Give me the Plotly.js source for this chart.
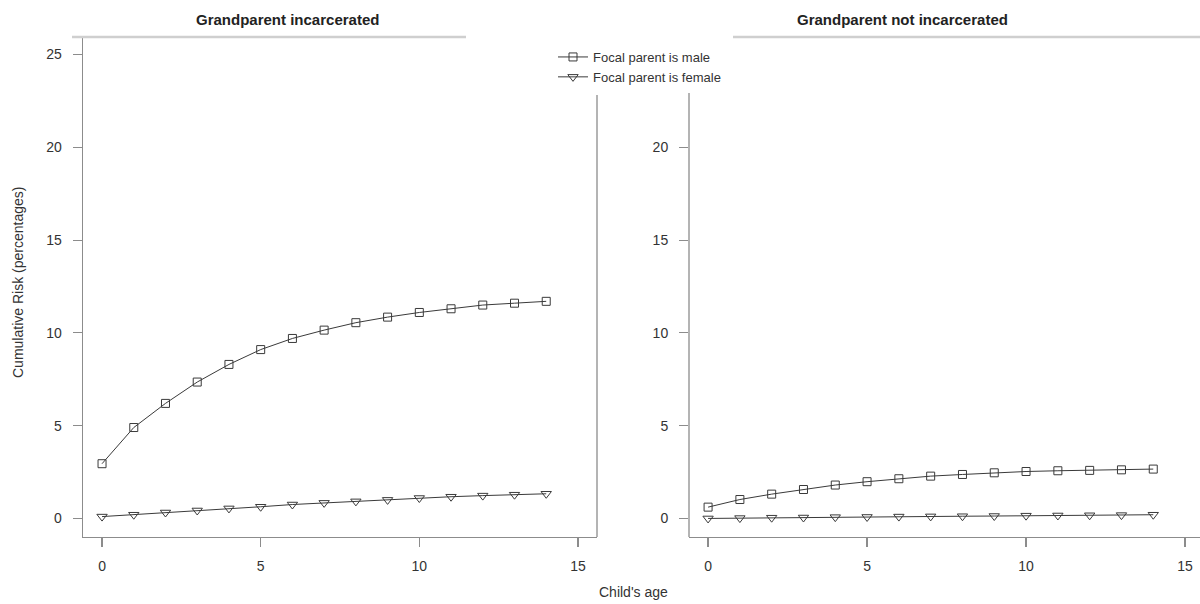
<!DOCTYPE html>
<html>
<head>
<meta charset="utf-8">
<script src="https://cdn.plot.ly/plotly-3.0.1.min.js"></script>
<style>html,body{margin:0;padding:0;background:#fff;}</style>
</head>
<body>
<div id="chart" style="width:1200px;height:604px;"></div>
<script>
const ages = [0,1,2,3,4,5,6,7,8,9,10,11,12,13,14];
const incMale   = [2.95, 4.9, 6.2, 7.35, 8.3, 9.1, 9.7, 10.15, 10.55, 10.85, 11.1, 11.3, 11.5, 11.6, 11.7];
const incFemale = [0.1, 0.2, 0.32, 0.43, 0.54, 0.63, 0.75, 0.84, 0.92, 1.0, 1.1, 1.17, 1.23, 1.28, 1.33];
const notMale   = [0.61, 1.02, 1.31, 1.56, 1.8, 1.98, 2.14, 2.28, 2.37, 2.46, 2.53, 2.57, 2.59, 2.62, 2.66];
const notFemale = [0.0, 0.02, 0.04, 0.05, 0.07, 0.08, 0.1, 0.11, 0.12, 0.13, 0.15, 0.16, 0.17, 0.18, 0.2];
const panelTitles = ["Grandparent incarcerated", "Grandparent not incarcerated"];
const seriesNames = ["Focal parent is male", "Focal parent is female"];
const xTicks = [0,5,10,15];
const yTicksLeft = [0,5,10,15,20,25];
const yTicksRight = [0,5,10,15,20];

const W = 1200, H = 604;
const px = v => v / W;
const py = v => 1 - v / H;
const font = "Liberation Sans, Arial, sans-serif";
const lineCol = "#3a3a3a";
const axCol = "#8c8c8c";
const txtCol = "#333";

function tr(y, name, sym, xa, ya, show) {
  return {
    x: ages, y: y, name: name, xaxis: xa, yaxis: ya, showlegend: show,
    type: "scatter", mode: "lines+markers",
    line: {color: lineCol, width: 1},
    marker: {symbol: sym, size: sym === "square-open" ? 8 : 9, color: lineCol, line: {width: 1, color: lineCol}}
  };
}

const data = [
  tr(incMale, seriesNames[0], "square-open", "x", "y", true),
  tr(incFemale, seriesNames[1], "triangle-down-open", "x", "y", true),
  tr(notMale, seriesNames[0], "square-open", "x2", "y2", false),
  tr(notFemale, seriesNames[1], "triangle-down-open", "x2", "y2", false)
];

function xax(dom, rng) {
  return {domain: dom, range: rng, showline: true, linecolor: axCol, linewidth: 1.3,
    ticks: "outside", ticklen: 9, tickcolor: axCol, tickwidth: 1.2, tickvals: xTicks,
    showgrid: false, zeroline: false, ticklabelstandoff: 7,
    tickfont: {family: font, size: 14, color: txtCol}, fixedrange: true};
}
function yax(dom, rng, tv, anchor, showline) {
  return {domain: dom, range: rng, showline: showline, linecolor: axCol, linewidth: 1.3,
    ticks: "outside", ticklen: 9, tickcolor: axCol, tickwidth: 1.2, tickvals: tv,
    showgrid: false, zeroline: false, ticklabelstandoff: 8, anchor: anchor,
    tickfont: {family: font, size: 14, color: txtCol}, fixedrange: true};
}

const yDom = [py(537), py(36)];
const layout = {
  width: W, height: H,
  margin: {l: 0, r: 0, t: 0, b: 0},
  paper_bgcolor: "#fff", plot_bgcolor: "rgba(0,0,0,0)",
  font: {family: font, color: txtCol},
  xaxis: xax([px(83), px(597)], [-0.6, 15.6]),
  yaxis: yax(yDom, [-1, 26], yTicksLeft, "x", true),
  xaxis2: Object.assign(xax([px(689), 1], [-0.6, 15.47]), {anchor: "y2"}),
  yaxis2: yax(yDom, [-1, 26], yTicksRight, "x2", false),
  showlegend: true,
  legend: {x: px(553), y: py(42), xanchor: "left", yanchor: "top",
    bgcolor: "rgba(0,0,0,0)", font: {family: font, size: 13, color: txtCol},
    tracegroupgap: 0, itemwidth: 30},
  shapes: [
    {type: "line", xref: "paper", yref: "paper", x0: px(597), x1: px(597), y0: py(537), y1: py(95), line: {color: axCol, width: 1.3}},
    {type: "line", xref: "paper", yref: "paper", x0: px(689), x1: px(689), y0: py(537), y1: py(93), line: {color: axCol, width: 1.3}},
    {type: "line", xref: "paper", yref: "paper", x0: px(72), x1: px(466), y0: py(37), y1: py(37), line: {color: "#cfcfcf", width: 2.5}},
    {type: "line", xref: "paper", yref: "paper", x0: px(733), x1: 1, y0: py(37), y1: py(37), line: {color: "#cfcfcf", width: 2.5}}
  ],
  annotations: [
    {text: "<b>" + panelTitles[0] + "</b>", xref: "paper", yref: "paper", x: px(287), y: py(20), xanchor: "center", yanchor: "middle", showarrow: false, font: {family: font, size: 15, color: "#222"}},
    {text: "<b>" + panelTitles[1] + "</b>", xref: "paper", yref: "paper", x: px(902), y: py(20), xanchor: "center", yanchor: "middle", showarrow: false, font: {family: font, size: 15, color: "#222"}},
    {text: "Cumulative Risk (percentages)", xref: "paper", yref: "paper", x: px(18), y: py(283), xanchor: "center", yanchor: "middle", textangle: -90, showarrow: false, font: {family: font, size: 14, color: txtCol}},
    {text: "Child's age", xref: "paper", yref: "paper", x: px(633), y: py(592), xanchor: "center", yanchor: "middle", showarrow: false, font: {family: font, size: 14, color: txtCol}}
  ]
};

Plotly.newPlot("chart", data, layout, {displayModeBar: false, staticPlot: true});
</script>
</body>
</html>
